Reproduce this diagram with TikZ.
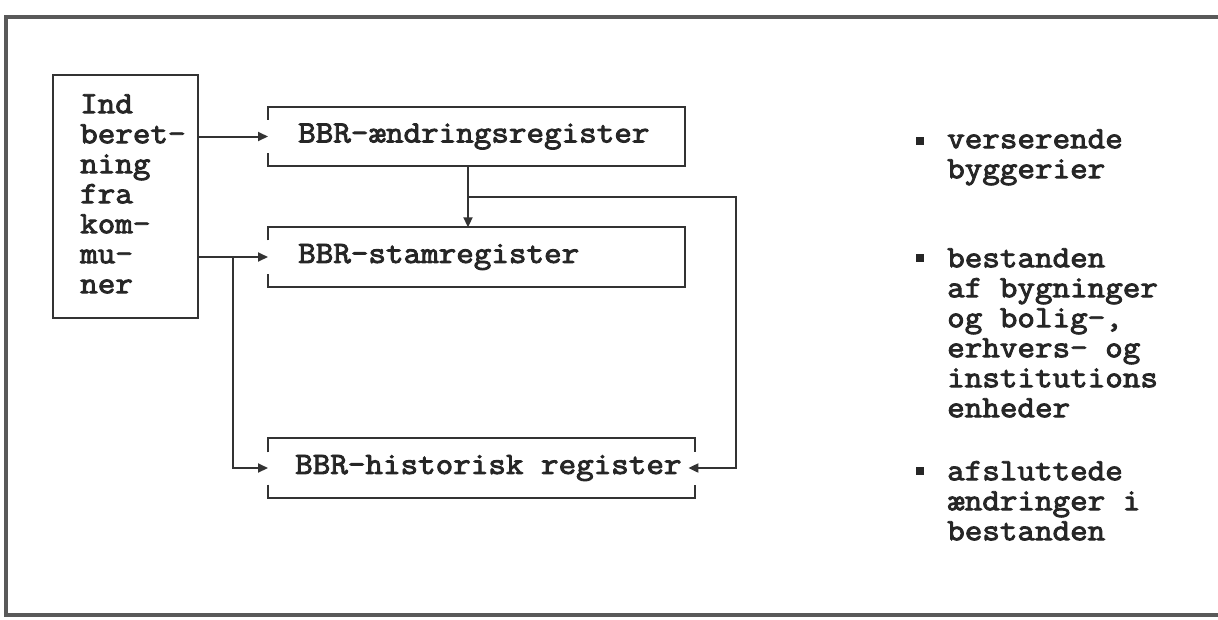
\documentclass[tikz,border=0pt]{standalone}
\usepackage{fontspec}
\newfontfamily\typew[FakeBold=3,FakeStretch=1.10]{Latin Modern Mono}
\newcommand{\typewsel}{\typew\fontsize{31}{30}\selectfont}
\usetikzlibrary{arrows.meta}
\begin{document}
\begin{tikzpicture}[x=1pt,y=-1pt,
  txt/.style={font=\typewsel, text=black!85},
  reg/.style={txt, anchor=west, inner xsep=0pt, inner ysep=0pt, minimum height=59pt},
  bracket/.style={line width=2pt, draw=black!80},
  ln/.style={line width=2pt, draw=black!80},
  arr/.style={ln, -{Triangle[length=10pt,width=9pt]}},
  frame/.style={line width=4pt, draw=black!65},
  bullet/.style={fill=black!85, minimum size=8pt, inner sep=0pt},
  side/.style={txt, anchor=north west, inner sep=0pt, align=left}
]
\useasboundingbox (0,0) rectangle (1218,619);
\draw[frame] (1218,17) -- (6,17) -- (6,615) -- (1218,615);

% input box
\node[draw=black!80, line width=2pt, anchor=north west, minimum width=145pt,
      minimum height=243pt, inner sep=0pt] (indbox) at (52,74) {};
\node[side] (ind) at (80,91) {\rule{0pt}{22pt}Ind\\beret-\\ning\\fra\\kom-\\mu-\\ner};

% registers
\node[reg] (aend) at (268,136.5) {\makebox[417pt][l]{\hspace*{30pt}BBR-ændringsregister}};
\node[reg] (stam) at (268,257) {\makebox[417pt][l]{\hspace*{30pt}BBR-stamregister}};
\node[reg] (hist) at (268,468) {\makebox[427pt][l]{\hspace*{27pt}BBR-historisk register}};

\draw[bracket] ([yshift=-13pt]aend.north west) -- (aend.north west) -- (aend.north east)
  -- (aend.south east) -- (aend.south west) -- ([yshift=13pt]aend.south west);
\draw[bracket] ([yshift=-13pt]stam.north west) -- (stam.north west) -- (stam.north east)
  -- (stam.south east) -- (stam.south west) -- ([yshift=13pt]stam.south west);
\draw[bracket] ([yshift=-14pt]hist.north west) -- (hist.north west) -- (hist.north east)
  -- ([yshift=-14pt]hist.north east);
\draw[bracket] ([yshift=13pt]hist.south west) -- (hist.south west) -- (hist.south east)
  -- ([yshift=13pt]hist.south east);

% connectors
\coordinate (br) at (233,257);
\coordinate (j) at (468,197);
\coordinate (c) at (736,197);
\draw[arr] (indbox.east |- aend.west) -- (aend.west);
\draw[arr] (indbox.east |- stam.west) -- (stam.west);
\draw[arr] (br) |- (hist.west);
\draw[ln] (aend.south -| j) -- (j);
\draw[arr] (j) -- (stam.north -| j);
\draw[arr] (j) -- (c) |- ([xshift=-7pt]hist.east);

% side notes
\node[bullet] (bul1) at (920,141) {};
\node[bullet] (bul2) at (920,258) {};
\node[bullet] (bul3) at (920,471) {};
\node[side] (t1) at (947,126) {\rule{0pt}{22pt}verserende\\byggerier};
\node[side] (t2) at (947,245) {\rule{0pt}{22pt}bestanden\\af bygninger\\og bolig-,\\erhvers- og\\institutions\\enheder};
\node[side] (t3) at (947,458) {\rule{0pt}{22pt}afsluttede\\ændringer i\\bestanden};
\end{tikzpicture}
\end{document}
